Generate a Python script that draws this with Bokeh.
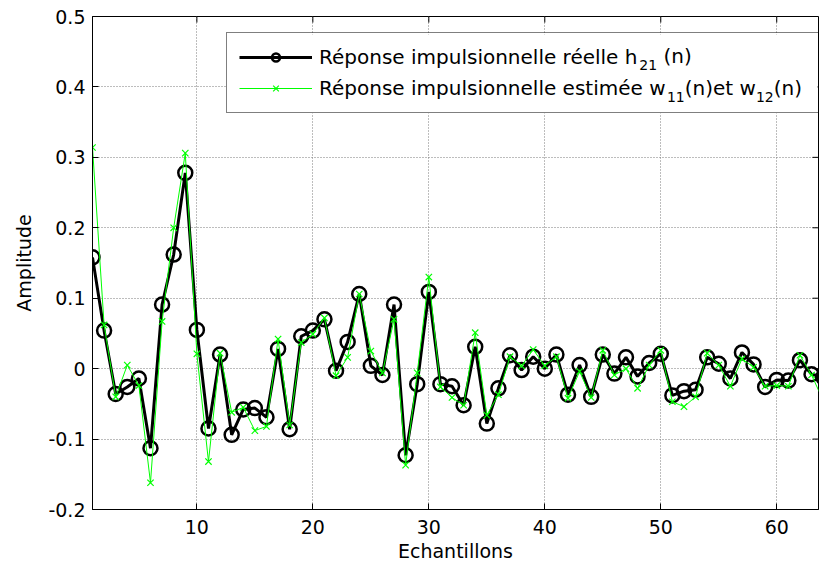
from bokeh.plotting import figure
from bokeh.models import (Range1d, FixedTicker, Legend, LegendItem)
from bokeh.core.properties import value
from bokeh.embed import file_html
from bokeh.resources import INLINE

# ---------------- data ----------------
samples = list(range(1, 65))
h21 = [0.158, 0.054, -0.036, -0.026, -0.014, -0.113, 0.091, 0.162, 0.278, 0.055,
       -0.085, 0.020, -0.094, -0.058, -0.056, -0.069, 0.028, -0.086, 0.046, 0.054,
       0.070, -0.003, 0.038, 0.106, 0.004, -0.009, 0.091, -0.123, -0.022, 0.109,
       -0.022, -0.025, -0.052, 0.031, -0.078, -0.028, 0.019, -0.002, 0.017, 0.000,
       0.020, -0.037, 0.005, -0.040, 0.020, -0.007, 0.016, -0.011, 0.008, 0.021,
       -0.038, -0.032, -0.030, 0.016, 0.007, -0.014, 0.023, 0.006, -0.026, -0.016,
       -0.017, 0.012, -0.008, -0.012]
w_est = [0.314, 0.062, -0.040, 0.005, -0.024, -0.162, 0.067, 0.200, 0.306, 0.021,
         -0.132, 0.022, -0.062, -0.055, -0.088, -0.082, 0.042, -0.080, 0.037, 0.049,
         0.072, -0.010, 0.016, 0.106, 0.025, -0.006, 0.070, -0.137, -0.006, 0.130,
         -0.026, -0.041, -0.052, 0.051, -0.066, -0.037, 0.017, 0.004, 0.027, 0.004,
         0.017, -0.042, -0.004, -0.041, 0.026, -0.009, 0.000, -0.028, 0.005, 0.026,
         -0.047, -0.054, -0.040, 0.022, 0.005, -0.025, 0.014, 0.002, -0.025, -0.024,
         -0.025, 0.019, -0.009, -0.045]

x_ticks = [10, 20, 30, 40, 50, 60]
y_ticks = [-0.2, -0.1, 0, 0.1, 0.2, 0.3, 0.4, 0.5]
y_tick_labels = ["-0.2", "-0.1", "0", "0.1", "0.2", "0.3", "0.4", "0.5"]

x_label = "Echantillons"
y_label = "Amplitude"
# legend texts: (text, is_subscript)
legend_row1 = [("Réponse impulsionnelle réelle h", False), ("21", True), (" ", False), ("(n)", False)]
legend_row2 = [("Réponse impulsionnelle estimée w", False), ("11", True), ("(n)et w", False),
               ("12", True), ("(n)", False)]

# ---------------- style ----------------
FONT = "DejaVu Sans"
MAIN_SIZE = 20
SUB_SIZE = 14
GREEN = "#00ff00"

# approximate DejaVu Sans advance widths (units / 2048)
DV = {"R": 1423, "é": 1260, "p": 1300, "o": 1253, "n": 1298, "s": 1067, "e": 1260,
      " ": 651, "i": 569, "m": 1995, "u": 1298, "l": 569, "r": 842, "h": 1298,
      "t": 803, "w": 1675, "(": 799, ")": 799}
for d in "0123456789":
    DV[d] = 1303


def text_w(s, size):
    return sum(DV.get(c, 1250) for c in s) / 2048.0 * size


W, H = 819, 569
B_LEFT, B_RIGHT, B_TOP, B_BOTTOM = 92, 1, 16, 60
X0, X1 = 1, 63.6
Y0, Y1 = -0.2, 0.5
FRAME_W = W - B_LEFT - B_RIGHT
FRAME_H = H - B_TOP - B_BOTTOM
PX_X = FRAME_W / (X1 - X0)
PX_Y = FRAME_H / (Y1 - Y0)


def sx2x(sx):
    return X0 + sx / PX_X


def sy2y(sy):
    return Y0 + sy / PX_Y


p = figure(width=W, height=H, output_backend="svg", toolbar_location=None, title=None,
           x_range=Range1d(X0, X1), y_range=Range1d(Y0, Y1),
           min_border_left=B_LEFT, min_border_right=B_RIGHT,
           min_border_top=B_TOP, min_border_bottom=B_BOTTOM)
p.background_fill_color = "white"
p.border_fill_color = "white"
p.outline_line_color = "black"
p.outline_line_width = 1

# axes
xa = p.xaxis[0]
ya = p.yaxis[0]
xa.ticker = FixedTicker(ticks=x_ticks)
ya.ticker = FixedTicker(ticks=y_ticks)
ya.major_label_overrides = {t: lab for t, lab in zip(y_ticks, y_tick_labels)}
for ax in (xa, ya):
    ax.major_tick_in = 6
    ax.major_tick_out = 0
    ax.minor_tick_line_color = None
    ax.major_tick_line_color = "black"
    ax.axis_line_color = "black"
    ax.major_label_text_font = FONT
    ax.major_label_text_font_size = "19px"
    ax.major_label_text_color = "black"
    ax.axis_label_text_font = FONT
    ax.axis_label_text_font_size = "19px"
    ax.axis_label_text_font_style = "normal"
    ax.axis_label_text_color = "black"
xa.axis_label = x_label
ya.axis_label = y_label
xa.major_label_standoff = 10
xa.axis_label_standoff = 3
ya.major_label_standoff = 7
ya.axis_label_standoff = 10

# grid
p.grid.grid_line_color = "#7a7a7a"
p.grid.grid_line_dash = "1 2"
p.grid.grid_line_width = 1
p.xgrid.ticker = FixedTicker(ticks=x_ticks)
p.ygrid.ticker = FixedTicker(ticks=y_ticks)

# box ticks on the top and right edges (inward, 6 px)
tick_len_y = 6 / PX_Y
tick_len_x = 6 / PX_X
p.segment(x0=x_ticks, y0=[Y1] * len(x_ticks), x1=x_ticks, y1=[Y1 - tick_len_y] * len(x_ticks),
          line_color="black", line_width=1)
p.segment(x0=[X1] * len(y_ticks), y0=y_ticks, x1=[X1 - tick_len_x] * len(y_ticks), y1=y_ticks,
          line_color="black", line_width=1)

# legend geometry (screen px relative to frame: x from left, y from bottom)
LEG_X, LEG_Y = 134, 396
PAD, SPACING, GW, GH, STANDOFF = 12, 7, 73, 20, 7
LEG_W, LEG_H = 591, 79

# opaque background of the legend box (hides the grid behind it)
p.quad(left=[sx2x(LEG_X)], right=[sx2x(LEG_X + LEG_W)], bottom=[sy2y(LEG_Y)],
       top=[sy2y(LEG_Y + LEG_H)], fill_color="white", line_color=None)

# series
r_h_line = p.line(samples, h21, line_color="black", line_width=3)
r_h_pts = p.scatter(samples, h21, marker="circle", size=14, fill_color=None,
                    line_color="black", line_width=2.5)
r_w_line = p.line(samples, w_est, line_color=GREEN, line_width=1)
r_w_pts = p.scatter(samples, w_est, marker="x", size=9, line_color=GREEN, line_width=1.2)

legend = Legend(
    items=[LegendItem(label=legend_row1[0][0], renderers=[r_h_line, r_h_pts]),
           LegendItem(label=legend_row2[0][0], renderers=[r_w_line, r_w_pts])],
    location=(LEG_X, LEG_Y), padding=PAD, spacing=SPACING, glyph_width=GW, glyph_height=GH,
    label_standoff=STANDOFF, label_width=487, margin=0,
    label_text_font=FONT, label_text_font_size=f"{MAIN_SIZE}px", label_text_color="black",
    border_line_color="black", border_line_width=1, background_fill_color="white",
    background_fill_alpha=0.0)
p.add_layout(legend)

# remaining pieces of the legend labels (subscripts etc.), placed after the main text
text_x0 = LEG_X + PAD + GW + STANDOFF + 1
row2_sy = LEG_Y + 26
row1_sy = row2_sy + 32
SUB_DROP = 9
main_x, main_y, main_t = [], [], []
sub_x, sub_y, sub_t = [], [], []
for row, sy in ((legend_row1, row1_sy), (legend_row2, row2_sy)):
    sx = text_x0 + text_w(row[0][0], MAIN_SIZE)
    for txt, sub in row[1:]:
        size = SUB_SIZE if sub else MAIN_SIZE
        if txt.strip():
            if sub:
                sub_x.append(sx2x(sx)); sub_y.append(sy2y(sy - SUB_DROP)); sub_t.append(txt)
            else:
                main_x.append(sx2x(sx)); main_y.append(sy2y(sy)); main_t.append(txt)
        sx += text_w(txt, size)

p.text(x=main_x, y=main_y, text=main_t, text_font=value(FONT),
       text_font_size=value(f"{MAIN_SIZE}px"), text_color="black",
       text_baseline="middle", text_align="left")
p.text(x=sub_x, y=sub_y, text=sub_t, text_font=value(FONT),
       text_font_size=value(f"{SUB_SIZE}px"), text_color="black",
       text_baseline="middle", text_align="left")

open("out.html", "w").write(file_html(p, INLINE))
